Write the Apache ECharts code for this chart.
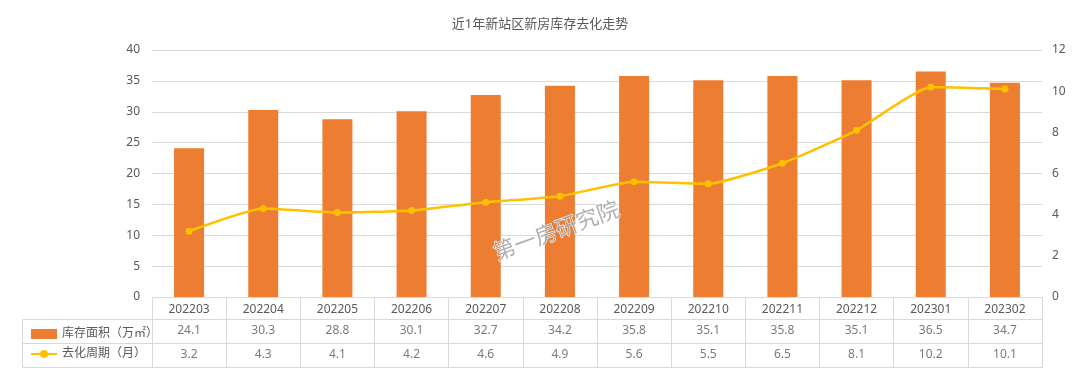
<!DOCTYPE html>
<html><head><meta charset="utf-8">
<script src="https://cdn.jsdelivr.net/npm/echarts@6/dist/echarts.min.js"></script>
<style>html,body{margin:0;padding:0;background:#fff}#c{width:1080px;height:373px}</style>
</head><body><div id="c"></div>
<script>
const title = '近1年新站区新房库存去化走势';
const categories = ['202203','202204','202205','202206','202207','202208','202209','202210','202211','202212','202301','202302'];
const stockName = '库存面积（万㎡）';
const stockValues = [24.1,30.3,28.8,30.1,32.7,34.2,35.8,35.1,35.8,35.1,36.5,34.7];
const cycleName = '去化周期（月）';
const cycleValues = [3.2,4.3,4.1,4.2,4.6,4.9,5.6,5.5,6.5,8.1,10.2,10.1];
const watermark = '第一房研究院';

const font = "'Noto Sans','Noto Sans CJK SC',sans-serif";
const txt = '#595959';
const gridC = '#d9d9d9';
const chart = echarts.init(document.getElementById('c'));
chart.setOption({
  animation:false,
  textStyle:{fontFamily:font},
  title:{text:title,left:'center',top:13,textStyle:{fontSize:13,fontWeight:'normal',color:txt,fontFamily:font}},
  legend:{orient:'vertical',left:25,top:323,itemGap:8,itemWidth:26,itemHeight:10,
    textStyle:{color:txt,fontSize:12,fontFamily:font},
    data:[{name:stockName,icon:'rect'},{name:cycleName}]},
  grid:[{left:152,right:38,top:50,bottom:76},{left:152,right:38,top:319,bottom:6}],
  xAxis:[
    {type:'category',data:categories,gridIndex:0,
      axisLine:{lineStyle:{color:gridC}},
      axisTick:{show:true,interval:0,length:22,lineStyle:{color:gridC}},
      axisLabel:{color:txt,fontSize:12,margin:7,fontFamily:font}},
    {type:'category',data:categories,gridIndex:1,
      axisLine:{lineStyle:{color:gridC}},axisTick:{show:false},axisLabel:{show:false},
      splitLine:{show:true,interval:0,lineStyle:{color:gridC}}}
  ],
  yAxis:[
    {type:'value',min:0,max:40,interval:5,gridIndex:0,
      axisLine:{show:false},axisTick:{show:false},
      axisLabel:{color:txt,fontSize:12,margin:12,fontFamily:font},
      splitLine:{lineStyle:{color:gridC}}},
    {type:'value',min:0,max:12,interval:2,gridIndex:0,position:'right',
      axisLine:{show:false},axisTick:{show:false},
      axisLabel:{color:txt,fontSize:12,margin:10,fontFamily:font},
      splitLine:{show:false}},
    {type:'value',min:0,max:2,interval:1,gridIndex:1,
      axisLine:{show:true,lineStyle:{color:gridC}},axisTick:{show:false},axisLabel:{show:false},
      splitLine:{show:true,lineStyle:{color:gridC}}},
    {type:'value',min:0,max:2,interval:1,gridIndex:1,position:'right',
      axisLine:{show:true,lineStyle:{color:gridC}},axisTick:{show:false},axisLabel:{show:false},
      splitLine:{show:false}}
  ],
  series:[
    {name:stockName,type:'bar',data:stockValues,xAxisIndex:0,yAxisIndex:0,barWidth:30,
      itemStyle:{color:'#ED7D31'}},
    {name:cycleName,type:'line',data:cycleValues,xAxisIndex:0,yAxisIndex:1,smooth:0.15,
      symbol:'circle',symbolSize:7,lineStyle:{color:'#FFC000',width:2.5},itemStyle:{color:'#FFC000'}},
    {type:'scatter',xAxisIndex:1,yAxisIndex:2,symbolSize:0,silent:true,
      data:stockValues.map((v,i)=>({value:[i,1.5],raw:v})),
      label:{show:true,position:'inside',color:txt,fontSize:12,fontFamily:font,formatter:p=>p.data.raw.toFixed(1)}},
    {type:'scatter',xAxisIndex:1,yAxisIndex:2,symbolSize:0,silent:true,
      data:cycleValues.map((v,i)=>({value:[i,0.5],raw:v})),
      label:{show:true,position:'inside',color:txt,fontSize:12,fontFamily:font,formatter:p=>p.data.raw.toFixed(1)}}
  ],
  graphic:[
    {type:'rect',shape:{x:22.5,y:319.5,width:130,height:48},style:{fill:'none',stroke:gridC,lineWidth:1},silent:true},
    {type:'line',shape:{x1:22.5,y1:343.5,x2:152.5,y2:343.5},style:{stroke:gridC,lineWidth:1},silent:true},
    {type:'text',x:556,y:230,rotation:Math.PI*20/180,style:{text:watermark,fill:'rgba(150,150,150,0.75)',stroke:'#ffffff',lineWidth:1,font:"22px 'Noto Sans CJK SC'",textAlign:'center',textVerticalAlign:'middle'},silent:true,z:100}
  ]
});
</script></body></html>
